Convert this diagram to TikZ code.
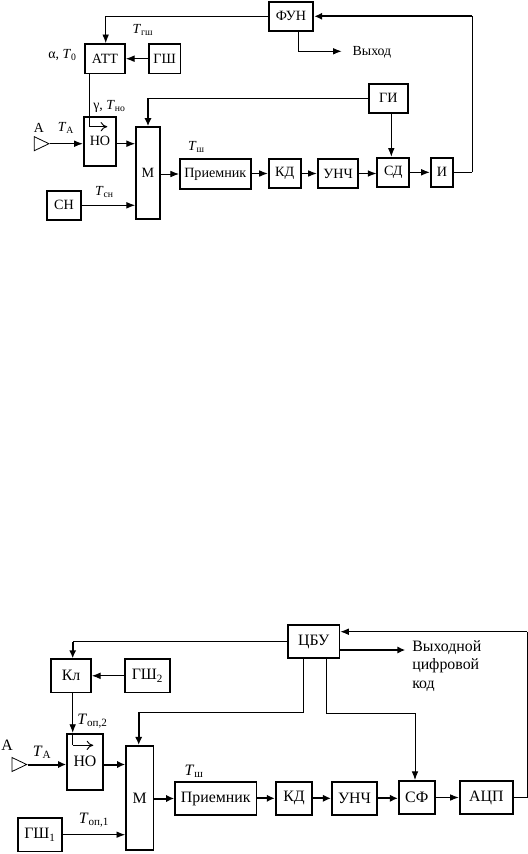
\documentclass[tikz,border=0pt]{standalone}
\usepackage{fontspec}
\setmainfont{Liberation Serif}
\usetikzlibrary{positioning, arrows.meta, shapes.geometric}
\newcommand{\Tlbl}[1]{\textit{T}\textsubscript{#1}}

\begin{document}
\begin{tikzpicture}[
    x=0.75pt, y=-0.75pt,
    blk/.style={draw, line width=1.3pt, inner sep=0pt, align=center, minimum height=22pt, font=\fontsize{10.6}{12}\selectfont},
    blkb/.style={blk, minimum height=25pt, font=\fontsize{11.9}{13}\selectfont},
    lbl/.style={inner sep=0pt, font=\fontsize{10.4}{12}\selectfont},
    lblb/.style={inner sep=0pt, align=left, font=\fontsize{11.9}{14}\selectfont},
    antenna/.style={draw, isosceles triangle, isosceles triangle stretches, inner sep=0pt,
                minimum width=10.5pt, minimum height=11pt, line width=0.6pt},
    wire/.style={line width=0.7pt, -{Latex[length=6.5pt,width=5pt]}},
    wireb/.style={line width=1.5pt, -{Latex[length=6pt,width=5.5pt]}},
    plain/.style={line width=0.7pt},
    plainb/.style={line width=1.5pt},
    tapline/.style={line width=0.7pt, -{To[length=5pt,width=7pt]}},
  ]
    \useasboundingbox (0,0) rectangle (528,854);

    %% Upper scheme
    \node[blk, minimum width=33.5pt] (fun) at (291,16.3) {ФУН};
    \node[blk, minimum width=30pt] (att) at (105,58.7) {АТТ};
    \node[blk, minimum width=23.5pt] (gsh) at (164.7,58.7) {ГШ};
    \node[blk, minimum width=29.5pt] (gi) at (388.3,98.3) {ГИ};
    \node[blk, minimum width=24.5pt, minimum height=37pt] (no) at (100,141.3) {НО};
    \node[blk, minimum width=18pt, minimum height=69pt] (m) at (148,173) {М};
    \node[blk, minimum width=53pt] (prm) at (215.3,174) {Приемник};
    \node[blk, minimum width=24pt] (kd) at (284.7,173.5) {КД};
    \node[blk, minimum width=30.5pt] (unch) at (338,173.5) {УНЧ};
    \node[blk, minimum width=24pt] (sd) at (393.3,172.3) {СД};
    \node[blk, minimum width=17pt] (imp) at (442,172.3) {И};
    \node[blk, minimum width=25pt] (sn) at (64,205.3) {СН};
    \node[antenna, anchor=apex] (ant) at (50,143.7) {};

    \node[lbl] (lvyh) at (372,52) {Выход};
    \node[lbl] (lgsh) at (143,30) {\Tlbl{гш}};
    \node[lbl] (lalpha) at (62.5,55) {α, \textit{T}\textsubscript{0}};
    \node[lbl] (lgamma) at (109.5,106) {γ, \Tlbl{но}};
    \node[lbl] (la) at (39,128) {А};
    \node[lbl] (lta) at (66,127.5) {\Tlbl{А}};
    \node[lbl] (lsh) at (196.5,147) {\Tlbl{ш}};
    \node[lbl] (lsn) at (104.5,192) {\Tlbl{сн}};

    \coordinate (funb) at (105.7,16.3);
    \coordinate (vyh) at (298.3,51.3);
    \coordinate (vyhe) at (341.7,51.3);
    \coordinate (tapa) at (89.3,126.7);
    \coordinate (tapb) at (107.3,126.7);
    \coordinate (gib) at (148,98.3);
    \coordinate (sdin) at (391.3,98.3);
    \coordinate (back) at (472.3,172.3);

    \draw[wire] (fun.west) -- (funb) -- (funb |- att.north);
    \draw[wire] (gsh.west) -- (att.east);
    \draw[plain] (att.south -| tapa) -- (tapa);
    \draw[tapline] (tapa) -- (tapb);
    \draw[wire] (ant.apex) -- (ant.apex -| no.west);
    \draw[wire] (ant.apex -| no.east) -- (ant.apex -| m.west);
    \draw[wire] (sn.east) -- (sn.east -| m.west);
    \draw[plain] (gi.west) -- (gib);
    \draw[wireb] (gib) -- (m.north);
    \draw[wire] (prm.west -| m.east) -- (prm.west);
    \draw[wire] (prm.east |- kd) -- (kd.west);
    \draw[wire] (kd.east) -- (unch.west);
    \draw[wire] (unch.east) -- (unch.east -| sd.west);
    \draw[wire] (sd.east) -- (imp.west);
    \draw[wire] (sdin |- gi.south) -- (sdin |- sd.north);
    \draw[plain] (imp.east) -- (back);
    \draw[plain] (back) -- (back |- fun);
    \draw[wireb] (back |- fun) -- (fun.east);
    \draw[wire] (fun.south -| vyh) -- (vyh) -- (vyhe);

    %% Lower scheme
    \node[blkb, minimum width=38.5pt] (cbu) at (313.7,641.5) {ЦБУ};
    \node[blkb, minimum width=30pt] (kl) at (71,675.8) {Кл};
    \node[blkb, minimum width=34pt] (gsht) at (147.5,675.8) {ГШ\textsubscript{2}};
    \node[blkb, minimum width=27pt, minimum height=42pt] (nob) at (85,761.8) {НО};
    \node[blkb, minimum width=20.5pt, minimum height=78pt] (mb) at (139.7,797.8) {М};
    \node[blkb, minimum width=61pt] (prmb) at (215.7,798.5) {Приемник};
    \node[blkb, minimum width=27.5pt] (kdb) at (294,798.3) {КД};
    \node[blkb, minimum width=34pt] (unchb) at (354.5,798.3) {УНЧ};
    \node[blkb, minimum width=27pt] (sf) at (416.8,797.5) {СФ};
    \node[blkb, minimum width=40pt] (acp) at (486.3,797.5) {АЦП};
    \node[blkb, minimum width=33.5pt] (gsho) at (40,834.7) {ГШ\textsubscript{1}};
    \node[antenna, anchor=apex] (antb) at (27.7,764.5) {};

    \node[lblb, anchor=north west] (lcode) at (412,640)
      {Выходной\\цифровой\\код};
    \node[lblb] (la2) at (7,745) {А};
    \node[lblb] (lta2) at (42,752) {\Tlbl{А}};
    \node[lblb] (lop2) at (92.5,721) {\Tlbl{оп,2}};
    \node[lblb] (lsh2) at (194,771.5) {\Tlbl{ш}};
    \node[lblb] (lop1) at (94,820) {\Tlbl{оп,1}};

    \coordinate (cbua) at (72.7,641.5);
    \coordinate (tapc) at (72.7,745.3);
    \coordinate (tapd) at (93.3,745.3);
    \coordinate (cbuc) at (303.3,712.3);
    \coordinate (mtop) at (138.7,712.3);
    \coordinate (cbud) at (326.7,713.3);
    \coordinate (sftop) at (415,713.3);
    \coordinate (backb) at (527.3,797.5);
    \coordinate (cbuin) at (527.3,631.7);
    \coordinate (vyhb) at (405.3,650);

    \draw[plain] (cbu.west) -- (cbua);
    \draw[wireb] (cbua) -- (cbua |- kl.north);
    \draw[wire] (gsht.west) -- (kl.east);
    \draw[wire] (kl.south -| cbua) -- (cbua |- nob.north);
    \draw[plain] (cbua |- nob.north) -- (tapc);
    \draw[tapline] (tapc) -- (tapd);
    \draw[wireb] (antb.apex) -- (antb.apex -| nob.west);
    \draw[wireb] (antb.apex -| nob.east) -- (antb.apex -| mb.west);
    \draw[wire] (gsho.east) -- (gsho.east -| mb.west);
    \draw[plain] (cbu.south -| cbuc) -- (cbuc) -- (mtop);
    \draw[wireb] (mtop) -- (mtop |- mb.north);
    \draw[wireb] (mb.east |- prmb) -- (prmb.west);
    \draw[wireb] (prmb.east |- kdb) -- (kdb.west);
    \draw[wireb] (kdb.east) -- (unchb.west);
    \draw[wireb] (unchb.east) -- (unchb.east -| sf.west);
    \draw[wire] (sf.east) -- (acp.west);
    \draw[plain] (cbu.south -| cbud) -- (cbud) -- (sftop);
    \draw[wire] (sftop) -- (sftop |- sf.north);
    \draw[plain] (acp.east) -- (backb) -- (cbuin);
    \draw[wire] (cbuin) -- (cbuin -| cbu.east);
    \draw[wireb] (vyhb -| cbu.east) -- (vyhb);
  \end{tikzpicture}
\end{document}
